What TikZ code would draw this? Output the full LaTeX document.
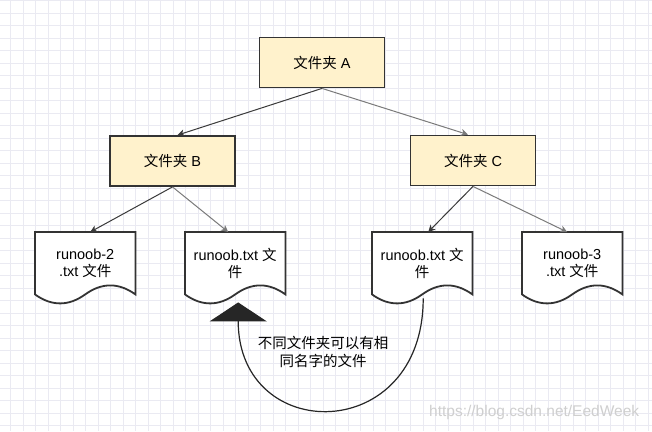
\documentclass[tikz,border=0pt]{standalone}
\usepackage{fontspec}
\setmainfont{Liberation Sans}
\newfontfamily\cjk{Noto Sans CJK SC}
\usetikzlibrary{calc,arrows.meta}
\pgfdeclarelayer{gridlayer}
\pgfdeclarelayer{shapelayer}
\pgfsetlayers{gridlayer,shapelayer,main}
\definecolor{boxfill}{HTML}{FFF2CC}
\definecolor{boxline}{HTML}{333333}
\definecolor{gridc}{HTML}{EAEAF2}
\definecolor{darkedge}{HTML}{3A3A3A}
\definecolor{lightedge}{HTML}{7A7A7A}
\definecolor{wmc}{HTML}{CFCFCF}
\newcommand\fs{\fontsize{14.5bp}{17.5bp}\selectfont}
\newcommand\wmfs{\fontsize{15.5bp}{18bp}\selectfont}
\newcommand\docshape[1]{%
  \draw[docline] (#1.north west) -- (#1.north east) -- (#1.south east)
   .. controls ($(#1.south east)+(-16.67,-12)$) and ($(#1.south)+(16.67,-12)$) .. (#1.south)
   .. controls ($(#1.south)+(-16.67,12)$) and ($(#1.south west)+(16.67,12)$) .. (#1.south west) -- cycle;}
\tikzset{
  folder/.style={draw=boxline, fill=boxfill, line width=1.8bp, minimum width=125bp, minimum height=50bp, inner sep=0pt, font=\fs},
  docbox/.style={minimum width=100bp, minimum height=62bp, inner sep=0pt, anchor=north west, align=center, font=\fs},
  docline/.style={draw=boxline, fill=white, line width=1.8bp},
  edgeD/.style={draw=darkedge, line width=1bp, -{Stealth[length=7bp,width=7bp,inset=2bp]}},
  edgeL/.style={draw=lightedge, line width=1bp, -{Stealth[length=7bp,width=7bp,inset=2bp]}},
  curvearrow/.style={draw=black!85, line width=1.2bp, -{Triangle[width=57bp,length=19bp]}},
  gridline/.style={draw=gridc, line width=0.8bp}
}
\begin{document}
\begin{tikzpicture}[x=1bp,y=-1bp]
\useasboundingbox (0,0) rectangle (652,431);
\begin{pgfonlayer}{gridlayer}
  \fill[white] (0,0) rectangle (652,431);
  \foreach \i in {0,...,51} {\draw[gridline] ({10.5+12.5*\i},0) -- ({10.5+12.5*\i},431);}
  \foreach \j in {0,...,34} {\draw[gridline] (0,{0.8+12.5*\j}) -- (652,{0.8+12.5*\j});}
\end{pgfonlayer}

\node[folder] (A) at (322,62.5) {{\cjk 文件夹} A};
\node[folder] (B) at (172.5,161) {{\cjk 文件夹} B};
\node[folder] (C) at (473,160.5) {{\cjk 文件夹} C};

\node[docbox] (d1) at (35,232) {runoob-2\\.txt {\cjk 文件}};
\node[docbox] (d2) at (185,232) {runoob.txt {\cjk 文}\\{\cjk 件}};
\node[docbox] (d3) at (372,232) {runoob.txt {\cjk 文}\\{\cjk 件}};
\node[docbox] (d4) at (522,232) {runoob-3\\.txt {\cjk 文件}};

\begin{pgfonlayer}{shapelayer}
  \docshape{d1}
  \docshape{d2}
  \docshape{d3}
  \docshape{d4}
\end{pgfonlayer}

\draw[edgeD] (A.south) -- ($(B.north)+(5,0)$);
\draw[edgeL] (A.south) -- ($(C.north)+(-5,0)$);
\draw[edgeD] (B.south) -- ($(d1.north)+(5,0)$);
\draw[edgeL] (B.south) -- ($(d2.north)+(-7,0)$);
\draw[edgeD] (C.south) -- ($(d3.north)+(6,0)$);
\draw[edgeL] (C.south) -- ($(d4.north)+(-5,0)$);

\coordinate (cs) at ($(d3.south)+(1,4)$);
\coordinate (ct) at ($(d2.south)+(3,8)$);
\draw[curvearrow] (cs) .. controls ($(cs)+(0,147)$) and ($(ct)+(0,143)$) .. (ct);

\node[font=\cjk\fs, align=center] (lbl) at (323,352) {不同文件夹可以有相\\同名字的文件};
\node[font=\wmfs, text=wmc, anchor=west, inner sep=0pt] (wmk) at (429,412) {https://blog.csdn.net/EedWeek};
\end{tikzpicture}
\end{document}
